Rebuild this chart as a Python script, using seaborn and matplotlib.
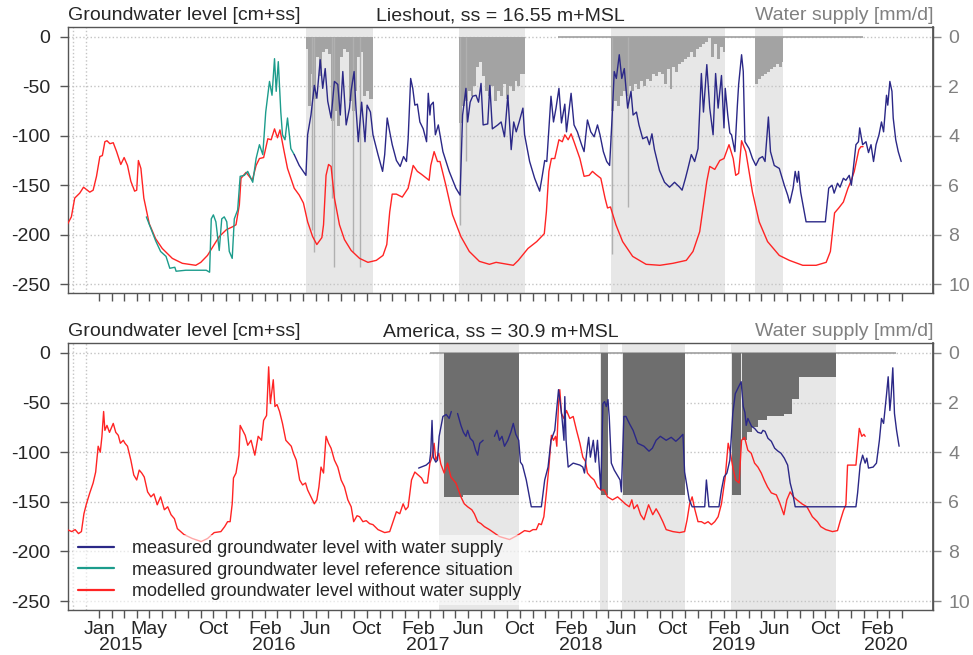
import numpy as np
import pandas as pd
import matplotlib
matplotlib.use("Agg")
import matplotlib.pyplot as plt
from matplotlib.lines import Line2D
from matplotlib.ticker import FixedLocator
import seaborn as sns

sns.set_theme(style="ticks")
plt.rcParams["font.family"] = ["Liberation Sans", "DejaVu Sans"]

# ---------------- Lieshout (top panel) ----------------
lies_mod_dates = [
    "2014-10-17", "2014-10-27", "2014-11-04", "2014-11-16", "2014-11-25", "2014-12-10", "2014-12-18", "2014-12-26",
    "2015-01-03", "2015-01-09", "2015-01-15", "2015-01-20", "2015-01-27", "2015-02-04", "2015-02-12", "2015-02-22",
    "2015-03-02", "2015-03-10", "2015-03-18", "2015-03-27", "2015-04-01", "2015-04-05", "2015-04-11", "2015-04-18",
    "2015-05-01", "2015-05-16", "2015-06-01", "2015-06-25", "2015-07-19", "2015-08-20", "2015-09-01", "2015-09-17",
    "2015-10-03", "2015-10-15", "2015-11-01", "2015-11-16", "2015-11-24", "2015-12-02", "2015-12-06", "2015-12-18",
    "2016-01-02", "2016-01-11", "2016-01-19", "2016-01-29", "2016-02-08", "2016-02-16", "2016-02-24", "2016-03-02",
    "2016-03-08", "2016-03-18", "2016-03-26", "2016-04-11", "2016-04-23", "2016-05-03", "2016-05-13", "2016-05-25",
    "2016-06-04", "2016-06-16", "2016-06-20", "2016-06-26", "2016-07-02", "2016-07-08", "2016-07-16", "2016-07-28",
    "2016-08-09", "2016-08-25", "2016-09-14", "2016-10-04", "2016-10-24", "2016-11-09", "2016-11-18", "2016-11-25",
    "2016-12-01", "2016-12-11", "2016-12-25", "2017-01-08", "2017-01-20", "2017-01-30", "2017-02-09", "2017-02-21",
    "2017-02-27", "2017-03-03", "2017-03-11", "2017-03-19", "2017-03-25", "2017-04-08", "2017-04-24", "2017-05-14",
    "2017-06-03", "2017-06-27", "2017-07-21", "2017-08-06", "2017-09-16", "2017-09-28", "2017-10-21", "2017-11-11",
    "2017-11-29", "2017-12-04", "2017-12-10", "2017-12-16", "2017-12-24", "2018-01-03", "2018-01-11", "2018-01-17",
    "2018-01-25", "2018-02-01", "2018-02-08", "2018-02-22", "2018-03-04", "2018-03-16", "2018-03-24", "2018-04-01",
    "2018-04-13", "2018-04-23", "2018-04-29", "2018-05-06", "2018-05-19", "2018-06-04", "2018-06-28", "2018-07-30",
    "2018-09-01", "2018-10-02", "2018-11-03", "2018-11-19", "2018-12-05", "2018-12-14", "2018-12-22", "2018-12-29",
    "2019-01-10", "2019-01-22", "2019-02-01", "2019-02-13", "2019-02-23", "2019-03-01", "2019-03-08", "2019-03-15",
    "2019-03-25", "2019-04-10", "2019-04-26", "2019-05-16", "2019-06-13", "2019-07-07", "2019-08-08", "2019-09-09",
    "2019-10-03", "2019-10-13", "2019-10-23", "2019-11-02", "2019-11-13", "2019-11-24", "2019-12-01", "2019-12-09",
    "2019-12-20", "2019-12-25", "2019-12-30",
]
lies_mod_gw = [
    -190, -182, -163, -158, -152, -157, -155, -141,
    -121, -120, -106, -105, -108, -107, -116, -129,
    -122, -130, -146, -156, -155, -125, -133, -163,
    -189, -204, -214, -224, -229, -231, -228, -221,
    -210, -202, -195, -192, -190, -170, -143, -137,
    -145, -130, -123, -122, -103, -104, -93, -102,
    -94, -116, -133, -153, -160, -168, -187, -202,
    -210, -203, -190, -140, -129, -131, -163, -190,
    -205, -216, -224, -228, -226, -221, -210, -177,
    -159, -159, -162, -153, -130, -136, -139, -143,
    -145, -130, -116, -126, -126, -150, -180, -202,
    -217, -227, -230, -228, -231, -226, -214, -207,
    -199, -177, -136, -123, -123, -104, -106, -99,
    -104, -98, -106, -123, -141, -140, -136, -139,
    -143, -163, -173, -172, -190, -207, -222, -230,
    -231, -229, -226, -217, -197, -170, -146, -131,
    -134, -125, -123, -109, -123, -140, -138, -105,
    -116, -157, -187, -207, -221, -226, -231, -231,
    -228, -217, -178, -173, -167, -153, -146, -136,
    -114, -111, -111,
]

lies_ref_dates = [
    "2015-04-24", "2015-05-05", "2015-05-16", "2015-05-28", "2015-06-10", "2015-06-19", "2015-07-01", "2015-07-04",
    "2015-07-27", "2015-08-21", "2015-09-14", "2015-09-22", "2015-09-26", "2015-10-01", "2015-10-07", "2015-10-15",
    "2015-10-21", "2015-10-27", "2015-11-02", "2015-11-08", "2015-11-15", "2015-11-20", "2015-11-28", "2015-12-04",
    "2015-12-14", "2015-12-22", "2016-01-03", "2016-01-11", "2016-01-19", "2016-01-27", "2016-02-03", "2016-02-12",
    "2016-02-18", "2016-02-24", "2016-02-28", "2016-03-04", "2016-03-10", "2016-03-14", "2016-03-20", "2016-03-26",
    "2016-04-03", "2016-04-11",
]
lies_ref_gw = [
    -182, -194, -206, -217, -222, -234, -233, -237,
    -236, -236, -236, -238, -184, -180, -187, -216,
    -184, -182, -187, -217, -224, -184, -175, -141,
    -140, -136, -147, -123, -109, -119, -76, -45,
    -59, -22, -55, -25, -76, -99, -104, -82,
    -113, -119,
]

lies_meas_dates = [
    "2016-04-11", "2016-04-23", "2016-05-09", "2016-05-13", "2016-05-21", "2016-05-29", "2016-06-04", "2016-06-12",
    "2016-06-18", "2016-06-24", "2016-06-30", "2016-07-08", "2016-07-16", "2016-07-24", "2016-07-30", "2016-08-05",
    "2016-08-13", "2016-08-21", "2016-08-25", "2016-09-01", "2016-09-05", "2016-09-11", "2016-09-19", "2016-09-27",
    "2016-10-02", "2016-10-10", "2016-10-16", "2016-10-28", "2016-11-08", "2016-11-13", "2016-11-19", "2016-11-25",
    "2016-12-01", "2016-12-11", "2016-12-20", "2016-12-28", "2017-01-04", "2017-01-08", "2017-01-14", "2017-01-19",
    "2017-01-24", "2017-01-30", "2017-02-05", "2017-02-13", "2017-02-21", "2017-02-25", "2017-03-01", "2017-03-03",
    "2017-03-09", "2017-03-14", "2017-03-21", "2017-04-01", "2017-04-16", "2017-05-02", "2017-05-12", "2017-05-18",
    "2017-05-26", "2017-05-30", "2017-06-05", "2017-06-11", "2017-06-19", "2017-06-25", "2017-07-01", "2017-07-06",
    "2017-07-17", "2017-07-22", "2017-07-28", "2017-08-10", "2017-08-18", "2017-08-26", "2017-09-03", "2017-09-11",
    "2017-09-17", "2017-09-23", "2017-09-30", "2017-10-09", "2017-10-13", "2017-10-25", "2017-11-06", "2017-11-18",
    "2017-11-24", "2017-11-30", "2017-12-05", "2017-12-11", "2017-12-15", "2017-12-21", "2017-12-27", "2018-01-03",
    "2018-01-09", "2018-01-17", "2018-01-21", "2018-02-01", "2018-02-08", "2018-02-16", "2018-02-26", "2018-03-04",
    "2018-03-12", "2018-03-20", "2018-03-28", "2018-04-05", "2018-04-11", "2018-04-19", "2018-04-27", "2018-05-04",
    "2018-05-11", "2018-05-15", "2018-05-20", "2018-05-27", "2018-06-02", "2018-06-08", "2018-06-16", "2018-06-24",
    "2018-06-29", "2018-07-07", "2018-07-13", "2018-07-22", "2018-08-01", "2018-08-07", "2018-08-13", "2018-08-19",
    "2018-08-31", "2018-09-12", "2018-09-24", "2018-10-06", "2018-10-18", "2018-10-24", "2018-11-01", "2018-11-07",
    "2018-11-15", "2018-11-23", "2018-12-01", "2018-12-09", "2018-12-14", "2018-12-22", "2018-12-29", "2019-01-06",
    "2019-01-12", "2019-01-18", "2019-01-26", "2019-02-01", "2019-02-04", "2019-02-10", "2019-02-15", "2019-02-19",
    "2019-02-27", "2019-03-05", "2019-03-08", "2019-03-15", "2019-03-19", "2019-03-23", "2019-04-02", "2019-04-10",
    "2019-04-18", "2019-04-26", "2019-05-04", "2019-05-10", "2019-05-14", "2019-05-18", "2019-05-23", "2019-06-01",
    "2019-06-13", "2019-06-25", "2019-07-03", "2019-07-08", "2019-07-16", "2019-07-21", "2019-07-26", "2019-07-29",
    "2019-08-03", "2019-08-16", "2019-10-01", "2019-10-09", "2019-10-17", "2019-10-22", "2019-10-30", "2019-11-05",
    "2019-11-13", "2019-11-19", "2019-11-27", "2019-12-02", "2019-12-06", "2019-12-13", "2019-12-19", "2019-12-22",
    "2019-12-29", "2020-01-06", "2020-01-12", "2020-01-18", "2020-01-24", "2020-01-30", "2020-02-06", "2020-02-12",
    "2020-02-17", "2020-02-24", "2020-02-27", "2020-03-03", "2020-03-08", "2020-03-11", "2020-03-17", "2020-03-23",
    "2020-03-30",
]
lies_meas_gw = [
    -119, -130, -140, -99, -79, -49, -62, -23,
    -52, -32, -65, -82, -45, -48, -79, -35,
    -89, -72, -54, -35, -69, -106, -66, -106,
    -69, -76, -99, -119, -136, -119, -82, -96,
    -109, -125, -131, -121, -126, -103, -42, -52,
    -69, -68, -86, -93, -106, -57, -79, -69,
    -66, -99, -89, -116, -136, -153, -160, -79,
    -52, -86, -66, -60, -59, -66, -47, -89,
    -88, -49, -93, -89, -86, -101, -59, -114,
    -86, -96, -86, -72, -99, -126, -143, -156,
    -141, -125, -126, -86, -60, -86, -72, -52,
    -87, -68, -96, -57, -89, -96, -109, -116,
    -84, -96, -101, -89, -99, -116, -126, -130,
    -72, -35, -42, -18, -42, -32, -72, -55,
    -79, -76, -89, -103, -101, -109, -98, -114,
    -135, -147, -152, -147, -152, -155, -143, -133,
    -119, -126, -113, -37, -76, -28, -72, -99,
    -37, -72, -39, -92, -52, -79, -97, -99,
    -116, -69, -48, -18, -35, -106, -113, -123,
    -130, -123, -121, -126, -104, -81, -116, -130,
    -133, -150, -160, -168, -153, -136, -147, -136,
    -157, -187, -187, -153, -150, -158, -148, -152,
    -143, -145, -140, -150, -136, -109, -106, -92,
    -109, -106, -117, -109, -126, -109, -99, -86,
    -96, -59, -69, -45, -55, -82, -104, -116,
    -126,
]

# water supply Lieshout [mm/d]
lies_period_start = ["2016-05-09", "2017-05-09", "2018-05-07", "2019-04-17"]
lies_period_end = ["2016-10-16", "2017-10-13", "2019-02-04", "2019-06-23"]
lies_supply_dates = [
    "2016-05-09", "2016-05-13", "2016-05-20", "2016-05-27", "2016-06-03", "2016-06-10", "2016-06-17", "2016-06-24",
    "2016-07-01", "2016-07-08", "2016-07-15", "2016-07-22", "2016-07-29", "2016-08-05", "2016-08-12", "2016-08-19",
    "2016-08-26", "2016-09-02", "2016-09-09", "2016-09-16", "2016-09-23", "2016-09-30", "2016-10-07", "2016-10-16",
    "2017-05-09", "2017-05-16", "2017-05-23", "2017-05-30", "2017-06-06", "2017-06-13", "2017-06-20", "2017-06-27",
    "2017-07-04", "2017-07-11", "2017-07-18", "2017-07-25", "2017-08-01", "2017-08-08", "2017-08-15", "2017-08-22",
    "2017-08-29", "2017-09-05", "2017-09-12", "2017-09-19", "2017-09-26", "2017-10-03", "2017-10-13",
    "2018-05-07", "2018-05-14", "2018-05-21", "2018-05-28", "2018-06-04", "2018-06-11", "2018-06-18", "2018-06-25",
    "2018-07-02", "2018-07-09", "2018-07-16", "2018-07-23", "2018-07-30", "2018-08-06", "2018-08-13", "2018-08-20",
    "2018-08-27", "2018-09-03", "2018-09-10", "2018-09-17", "2018-09-24", "2018-10-01", "2018-10-08", "2018-10-15",
    "2018-10-22", "2018-10-29", "2018-11-05", "2018-11-12", "2018-11-19", "2018-11-26", "2018-12-03", "2018-12-10",
    "2018-12-17", "2018-12-24", "2019-01-01", "2019-01-08", "2019-01-15", "2019-01-22", "2019-01-29", "2019-02-04",
    "2019-04-17", "2019-04-24", "2019-05-01", "2019-05-08", "2019-05-15", "2019-05-22", "2019-05-29", "2019-06-05",
    "2019-06-12", "2019-06-19", "2019-06-23",
]
lies_supply_mm = [
    0.5, 2.8, 1.5, 2.5, 0.8, 1.6, 0.6, 0.5,
    0.7, 3.4, 3.0, 3.6, 0.8, 0.5, 0.6, 2.6,
    3.0, 2.2, 0.8, 0.6, 2.4, 2.2, 2.5, 0.0,
    3.5, 2.8, 2.6, 2.2, 2.4, 2.0, 1.2, 1.0,
    1.6, 2.2, 2.4, 2.0, 2.6, 2.2, 2.4, 1.9,
    2.5, 2.0, 2.2, 1.8, 2.0, 1.5, 0.0,
    3.0, 2.6, 2.8, 2.4, 2.2, 2.4, 2.0, 2.2,
    1.9, 2.1, 1.8, 2.0, 1.7, 1.8, 1.5, 1.6,
    1.4, 1.5, 1.9, 1.3, 2.1, 1.2, 1.4, 1.1,
    1.0, 0.9, 0.8, 0.6, 0.8, 0.5, 0.4, 0.3,
    0.2, 0.0, 0.8, 0.3, 0.9, 0.4, 0.6, 0.0,
    1.9, 1.7, 1.6, 1.5, 1.4, 1.3, 1.2, 1.1,
    1.2, 1.0, 0.0,
]
lies_spike_dates = ["2016-05-24", "2016-05-29", "2016-07-11", "2016-07-16", "2016-08-30", "2016-09-14",
                    "2017-05-11", "2017-05-26", "2018-05-10", "2018-06-16"]
lies_spike_mm = [7.8, 8.7, 6.5, 9.3, 8.7, 9.3, 7.6, 5.0, 8.8, 6.9]
lies_zero_start = ["2018-01-01"]
lies_zero_end = ["2019-12-30"]

# ---------------- America (bottom panel) ----------------
am_mod_dates = [
    "2014-10-17", "2014-10-28", "2014-11-05", "2014-11-13", "2014-11-20", "2014-11-26", "2014-12-02", "2014-12-10",
    "2014-12-18", "2014-12-24", "2014-12-30", "2015-01-04", "2015-01-08", "2015-01-12", "2015-01-15", "2015-01-20",
    "2015-01-26", "2015-02-04", "2015-02-10", "2015-02-16", "2015-02-21", "2015-02-28", "2015-03-04", "2015-03-10",
    "2015-03-18", "2015-03-25", "2015-04-01", "2015-04-07", "2015-04-13", "2015-04-19", "2015-04-27", "2015-05-05",
    "2015-05-12", "2015-05-20", "2015-05-28", "2015-06-06", "2015-06-14", "2015-06-22", "2015-06-30", "2015-07-07",
    "2015-07-23", "2015-08-12", "2015-09-02", "2015-09-17", "2015-10-03", "2015-10-19", "2015-10-28", "2015-11-04",
    "2015-11-10", "2015-11-15", "2015-11-18", "2015-11-24", "2015-12-01", "2015-12-04", "2015-12-10", "2015-12-16",
    "2015-12-22", "2015-12-30", "2016-01-08", "2016-01-16", "2016-01-24", "2016-01-29", "2016-02-05", "2016-02-10",
    "2016-02-14", "2016-02-21", "2016-02-25", "2016-03-01", "2016-03-07", "2016-03-14", "2016-03-22", "2016-04-04",
    "2016-04-09", "2016-04-16", "2016-04-24", "2016-05-01", "2016-05-08", "2016-05-13", "2016-05-21", "2016-05-29",
    "2016-06-04", "2016-06-09", "2016-06-14", "2016-06-20", "2016-06-26", "2016-07-02", "2016-07-08", "2016-07-16",
    "2016-07-24", "2016-08-01", "2016-08-09", "2016-08-17", "2016-08-25", "2016-08-31", "2016-09-08", "2016-09-14",
    "2016-09-22", "2016-09-30", "2016-10-08", "2016-10-16", "2016-10-28", "2016-11-13", "2016-11-25", "2016-12-03",
    "2016-12-11", "2016-12-19", "2016-12-27", "2017-01-02", "2017-01-08", "2017-01-16", "2017-01-24", "2017-02-01",
    "2017-02-09", "2017-02-15", "2017-02-23", "2017-03-01", "2017-03-06", "2017-03-11", "2017-03-15", "2017-03-22",
    "2017-03-27", "2017-04-04", "2017-04-12", "2017-04-20", "2017-05-02", "2017-05-14", "2017-05-22", "2017-05-30",
    "2017-06-09", "2017-06-15", "2017-06-23", "2017-07-01", "2017-07-09", "2017-07-21", "2017-08-14", "2017-09-07",
    "2017-09-25", "2017-10-13", "2017-10-25", "2017-11-02", "2017-11-10", "2017-11-16", "2017-11-22", "2017-11-28",
    "2017-12-04", "2017-12-10", "2017-12-16", "2017-12-21", "2017-12-26", "2017-12-29", "2018-01-02", "2018-01-05",
    "2018-01-09", "2018-01-15", "2018-01-21", "2018-01-29", "2018-02-06", "2018-02-14", "2018-02-22", "2018-03-01",
    "2018-03-07", "2018-03-12", "2018-03-20", "2018-03-28", "2018-04-05", "2018-04-13", "2018-04-21", "2018-04-29",
    "2018-05-11", "2018-05-23", "2018-05-31", "2018-06-10", "2018-06-20", "2018-06-26", "2018-07-01", "2018-07-09",
    "2018-07-17", "2018-07-25", "2018-08-05", "2018-08-15", "2018-08-23", "2018-08-31", "2018-09-08", "2018-09-16",
    "2018-10-02", "2018-10-18", "2018-10-30", "2018-11-05", "2018-11-11", "2018-11-17", "2018-11-23", "2018-12-01",
    "2018-12-09", "2018-12-17", "2018-12-25", "2019-01-02", "2019-01-10", "2019-01-18", "2019-01-26", "2019-02-04",
    "2019-02-11", "2019-02-16", "2019-02-22", "2019-03-01", "2019-03-09", "2019-03-15", "2019-03-22", "2019-03-30",
    "2019-04-07", "2019-04-15", "2019-04-23", "2019-05-01", "2019-05-08", "2019-05-16", "2019-05-25", "2019-06-06",
    "2019-06-14", "2019-06-24", "2019-07-01", "2019-07-09", "2019-07-17", "2019-07-25", "2019-08-06", "2019-08-18",
    "2019-08-31", "2019-09-12", "2019-09-20", "2019-10-02", "2019-10-18", "2019-10-30", "2019-11-05", "2019-11-13",
    "2019-11-19", "2019-11-23", "2019-12-13", "2019-12-21", "2019-12-27", "2020-01-01", "2020-01-04",
]
am_mod_gw = [
    -178, -180, -178, -182, -180, -162, -152, -141,
    -131, -120, -94, -100, -84, -59, -78, -73,
    -80, -71, -80, -83, -91, -88, -91, -94,
    -108, -123, -128, -118, -121, -125, -140, -145,
    -142, -153, -145, -158, -155, -163, -167, -177,
    -183, -187, -190, -187, -181, -180, -175, -170,
    -170, -152, -126, -121, -103, -73, -78, -83,
    -93, -88, -103, -84, -88, -68, -63, -14,
    -51, -27, -54, -52, -59, -71, -88, -94,
    -101, -108, -128, -133, -131, -138, -145, -152,
    -148, -135, -115, -121, -84, -91, -96, -108,
    -115, -128, -135, -148, -155, -170, -164, -165,
    -170, -169, -172, -173, -178, -181, -180, -170,
    -160, -162, -152, -158, -155, -128, -120, -123,
    -126, -131, -131, -111, -105, -91, -108, -101,
    -112, -121, -111, -125, -131, -145, -152, -155,
    -158, -162, -170, -172, -175, -178, -185, -188,
    -184, -179, -180, -178, -178, -172, -173, -165,
    -141, -115, -83, -88, -84, -94, -51, -37,
    -61, -66, -58, -66, -64, -78, -91, -105,
    -109, -121, -125, -128, -135, -138, -138, -145,
    -148, -145, -148, -152, -155, -148, -157, -153,
    -163, -168, -153, -163, -157, -163, -170, -178,
    -180, -181, -180, -168, -152, -145, -157, -170,
    -170, -172, -170, -173, -170, -165, -152, -125,
    -91, -100, -115, -128, -131, -88, -85, -98,
    -101, -111, -115, -121, -128, -135, -141, -143,
    -151, -163, -148, -140, -145, -148, -152, -155,
    -165, -170, -175, -178, -180, -179, -170, -159,
    -153, -113, -113, -76, -84, -82, -84,
]

# nan marks a gap in the record
am_meas_dates = [
    "2017-02-02", "2017-02-20", "2017-02-28", "2017-03-03", "2017-03-06", "2017-03-09", "2017-03-15", "2017-03-19",
    "2017-03-23", "2017-04-01", "2017-04-09", "2017-04-16", "2017-04-21", "2017-04-28",
    "2017-05-06", "2017-05-14", "2017-05-20", "2017-05-26", "2017-05-30", "2017-06-05", "2017-06-12", "2017-06-18",
    "2017-06-23", "2017-06-28", "2017-07-06", "2017-07-20",
    "2017-08-02", "2017-08-08", "2017-08-14", "2017-08-20", "2017-08-26", "2017-09-03", "2017-09-10", "2017-09-16",
    "2017-09-22", "2017-09-29", "2017-10-03", "2017-10-08", "2017-10-17", "2017-10-29", "2017-11-22", "2017-11-30",
    "2017-12-08", "2017-12-15", "2017-12-24", "2018-01-02", "2018-01-06", "2018-01-10", "2018-01-15", "2018-01-17",
    "2018-01-20", "2018-01-25", "2018-02-06", "2018-02-22", "2018-03-01", "2018-03-05", "2018-03-12", "2018-03-15",
    "2018-03-19", "2018-03-26", "2018-03-31", "2018-04-05", "2018-04-13", "2018-04-18", "2018-04-22", "2018-04-26",
    "2018-04-30", "2018-05-03", "2018-05-08", "2018-05-15", "2018-05-29", "2018-06-01", "2018-06-07", "2018-06-12",
    "2018-06-20", "2018-06-29", "2018-07-10", "2018-07-25", "2018-08-06", "2018-08-14", "2018-08-23", "2018-09-02",
    "2018-09-16", "2018-09-28", "2018-10-09", "2018-10-17", "2018-10-26", "2018-10-30", "2018-11-10", "2018-11-17",
    "2018-12-17", "2018-12-21", "2018-12-27", "2019-01-20", "2019-01-26", "2019-02-01", "2019-02-08", "2019-02-15",
    "2019-02-22", "2019-02-28", "2019-03-08", "2019-03-14", "2019-03-19", "2019-03-23", "2019-03-26", "2019-03-30",
    "2019-04-08", "2019-04-15", "2019-04-23", "2019-05-01", "2019-05-05", "2019-05-10", "2019-05-17", "2019-05-25",
    "2019-06-02", "2019-06-10", "2019-06-17", "2019-06-25", "2019-07-03", "2019-07-09", "2019-07-15", "2019-07-21",
    "2019-12-13", "2019-12-17", "2019-12-23", "2019-12-29", "2020-01-04", "2020-01-08", "2020-01-12", "2020-01-23",
    "2020-01-31", "2020-02-07", "2020-02-12", "2020-02-17", "2020-02-24", "2020-02-28", "2020-03-03", "2020-03-06",
    "2020-03-10", "2020-03-14", "2020-03-19", "2020-03-25",
]
am_meas_gw = [
    -116, -113, -110, -100, -68, -105, -110, -108,
    -84, -64, -62, -66, -59, np.nan,
    -61, -73, -80, -84, -78, -86, -89, -98,
    -103, -91, -88, np.nan,
    -84, -78, -88, -84, -94, -88, -80, -71,
    -82, -88, -110, -113, -128, -155, -155, -128,
    -115, -88, -78, -37, -50, -64, -88, -44,
    -88, -115, -111, -113, -115, -121, -94, -85,
    -105, -88, -110, -88, -138, -51, -49, -54,
    -47, -64, -111, -118, -128, -140, -64, -64,
    -71, -78, -91, -94, -99, -96, -88, -84,
    -88, -85, -89, -86, -82, -120, -148, -155,
    -155, -128, -155, -155, -138, -125, -121, -108,
    -61, -41, -34, -29, -54, -60, -73, -66,
    -74, -76, -80, -81, -78, -79, -86, -89,
    -96, -99, -101, -106, -113, -131, -141, -155,
    -155, -141, -113, -103, -111, -106, -116, -115,
    -111, -88, -66, -71, -42, -24, -58, -44,
    -15, -61, -78, -94,
]

# water supply America [mm/d]
am_period_start = ["2017-03-23", "2018-04-12", "2018-06-03", "2019-02-18"]
am_period_end = ["2017-09-30", "2018-04-30", "2018-10-30", "2019-10-27"]
am_supply_dates = [
    "2017-04-04", "2017-05-20", "2017-09-30",
    "2018-04-14", "2018-04-29",
    "2018-06-04", "2018-10-30",
    "2019-02-20", "2019-03-13", "2019-03-16", "2019-03-28", "2019-04-10", "2019-04-23", "2019-05-15", "2019-06-25",
    "2019-07-14", "2019-07-30", "2019-10-27",
]
am_supply_mm = [
    5.8, 5.72, 0.0,
    5.73, 0.0,
    5.73, 0.0,
    5.73, 0.0, 3.5, 3.2, 3.0, 2.7, 2.55, 2.45,
    1.85, 0.97, 0.0,
]
am_zero_start = ["2017-03-02"]
am_zero_end = ["2020-03-18"]

# ---------------- axis texts ----------------
tick_months = pd.date_range("2015-01-01", "2020-04-01", freq="MS")
grid_months = pd.date_range("2014-11-01", "2020-04-01", freq="MS")
month_labels = {"2015-01": "Jan", "2015-05": "May", "2015-10": "Oct"}
for yr in [2016, 2017, 2018, 2019, 2020]:
    month_labels[f"{yr}-02"] = "Feb"
    if yr < 2020:
        month_labels[f"{yr}-06"] = "Jun"
        month_labels[f"{yr}-10"] = "Oct"
year_labels = ["2015", "2016", "2017", "2018", "2019", "2020"]

BLUE = "#2b2887"
TEAL = "#1c9c8c"
RED = "#ff2424"
LIGHT = "#e7e7e7"
FRAME = "#555555"
FS = 14


def draw_line(ax, dates, values, color):
    df = pd.DataFrame({"date": pd.to_datetime(dates), "gw": values})
    seg = df["gw"].isna().cumsum()
    for _, part in df.groupby(seg):
        part = part.dropna()
        if len(part) > 1:
            sns.lineplot(data=part, x="date", y="gw", ax=ax, color=color, lw=1.0,
                         estimator=None, sort=False, zorder=3)


def draw_supply(ax, starts, ends, dates, mm, color, zero_s, zero_e):
    for s, e in zip(starts, ends):
        ax.axvspan(pd.Timestamp(s), pd.Timestamp(e), color=LIGHT, lw=0, zorder=0)
    for s, e in zip(zero_s, zero_e):
        ax.hlines(0, pd.Timestamp(s), pd.Timestamp(e), color="#a0a0a0", lw=1.2, zorder=1)
    d = pd.to_datetime(dates)
    ax.fill_between(d, -25 * np.array(mm), 0, step="post", color=color, lw=0, zorder=1)


def style_axis(ax, title, show_labels):
    ax.set_xlim(pd.Timestamp("2014-10-19"), pd.Timestamp("2020-06-14"))
    ax.set_ylim(-259, 10)
    ax.set_yticks([0, -50, -100, -150, -200, -250])
    ax.set_yticklabels(["0", "-50", "-100", "-150", "-200", "-250"])
    ax.set_xlabel("")
    ax.set_ylabel("")
    ax.set_axisbelow(True)
    ax.grid(axis="y", ls=":", color="#c4c4c4", lw=1.0)
    ax.xaxis.set_minor_locator(FixedLocator(matplotlib.dates.date2num(grid_months)))
    ax.grid(axis="x", which="minor", ls=":", color="#c4c4c4", lw=1.0)
    ax.xaxis.set_major_locator(FixedLocator(matplotlib.dates.date2num(tick_months)))
    if show_labels:
        ax.set_xticklabels([month_labels.get(m.strftime("%Y-%m"), "") for m in tick_months])
        for yr in year_labels:
            ax.text(pd.Timestamp(f"{yr}-02-23"), -0.102, yr, transform=ax.get_xaxis_transform(),
                    ha="center", va="top", fontsize=FS)
    else:
        ax.set_xticklabels([])
    ax.tick_params(axis="x", which="minor", length=0)
    ax.tick_params(axis="both", which="major", length=6, width=1.0, color=FRAME,
                   labelsize=FS, direction="out")
    ax.tick_params(axis="y", pad=7)
    ax.tick_params(axis="x", pad=2)
    for sp in ax.spines.values():
        sp.set_color(FRAME)
        sp.set_linewidth(1.0)
        sp.set_visible(True)
    sec = ax.secondary_yaxis("right", functions=(lambda y: -y / 25.0, lambda s: -s * 25.0))
    sec.set_yticks([0, 2, 4, 6, 8, 10])
    sec.tick_params(length=6, width=1.0, color="#888888", labelcolor="#808080", labelsize=FS, pad=5)
    sec.spines["right"].set_color(FRAME)
    ax.text(0, 1.01, "Groundwater level [cm+ss]", transform=ax.transAxes, ha="left", va="bottom", fontsize=FS)
    ax.text(0.5, 1.01, title, transform=ax.transAxes, ha="center", va="bottom", fontsize=FS)
    ax.text(1, 1.01, "Water supply [mm/d]", transform=ax.transAxes, ha="right", va="bottom",
            fontsize=FS, color="#808080")


fig = plt.figure(figsize=(9.73, 6.55), dpi=100)
ax1 = fig.add_axes([0.0699, 0.5527, 0.889, 0.406])
ax2 = fig.add_axes([0.0699, 0.0687, 0.889, 0.4076])

# top panel
draw_supply(ax1, lies_period_start, lies_period_end, lies_supply_dates, lies_supply_mm, "#a3a3a3",
            lies_zero_start, lies_zero_end)
ax1.vlines(pd.to_datetime(lies_spike_dates), 0, -25 * np.array(lies_spike_mm), color="#b0b0b0", lw=1.0, zorder=1)
draw_line(ax1, lies_mod_dates, lies_mod_gw, RED)
draw_line(ax1, lies_ref_dates, lies_ref_gw, TEAL)
draw_line(ax1, lies_meas_dates, lies_meas_gw, BLUE)
style_axis(ax1, "Lieshout, ss = 16.55 m+MSL", False)

# bottom panel
draw_supply(ax2, am_period_start, am_period_end, am_supply_dates, am_supply_mm, "#6e6e6e",
            am_zero_start, am_zero_end)
draw_line(ax2, am_mod_dates, am_mod_gw, RED)
draw_line(ax2, am_meas_dates, am_meas_gw, BLUE)
style_axis(ax2, "America, ss = 30.9 m+MSL", True)

handles = [Line2D([], [], color=BLUE, lw=1.6), Line2D([], [], color=TEAL, lw=1.6), Line2D([], [], color=RED, lw=1.6)]
labels = ["measured groundwater level with water supply",
          "measured groundwater level reference situation",
          "modelled groundwater level without water supply"]
leg = ax2.legend(handles, labels, loc="lower left", fontsize=13, frameon=True, facecolor="white",
                 edgecolor="none", framealpha=0.6, fancybox=False, handlelength=2.0, handletextpad=1.0,
                 labelspacing=0.25, borderpad=0.3, borderaxespad=0.25)
leg.set_zorder(5)

fig.savefig("out.png", dpi=100)
